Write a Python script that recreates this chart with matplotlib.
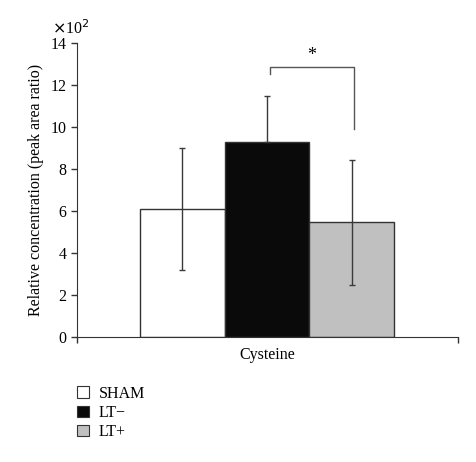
import matplotlib
matplotlib.use('Agg')
import matplotlib.pyplot as plt
from matplotlib.patches import Patch

plt.rcParams['font.family'] = ['Liberation Serif', 'DejaVu Serif']
plt.rcParams['font.size'] = 11.5

# data (x10^2)
groups = ['SHAM', 'LT\u2212', 'LT+']
means = [6.1, 9.28, 5.46]
err_low = [2.9, 0.0, 3.0]   # lower whisker of LT- is hidden inside the black bar
err_high = [2.9, 2.22, 3.0]
colors = ['white', '#0a0a0a', '#c0c0c0']
category = 'Cysteine'
yticks = [0, 2, 4, 6, 8, 10, 12, 14]

fig = plt.figure(figsize=(4.76, 4.62), dpi=100)
ax = fig.add_axes([0.162, 0.271, 0.8, 0.635])

pos = [0, 1, 2]
ax.bar(pos, means, width=1.0, color=colors, edgecolor='#333333', linewidth=1.0, zorder=2)
ax.errorbar(pos, means, yerr=[err_low, err_high], fmt='none', ecolor='#3a3a3a', elinewidth=1.0,
            capsize=2.5, capthick=1.0, zorder=3)

# significance bracket between LT- and LT+
ax.plot([1.03, 1.03, 2.02, 2.02], [12.54, 12.89, 12.89, 9.91], color='#555555', lw=1.0)
ax.text(1.52, 13.0, '*', ha='center', va='bottom', fontsize=13)

ax.set_xlim(-1.24, 3.25)
ax.set_ylim(0, 14)
ax.set_yticks(yticks)
ax.set_xticks([-1.24, 3.25])
ax.set_xticklabels(['', ''])
ax.tick_params(axis='both', direction='out', length=4, width=1, color='#333333')
ax.text(0.5, -0.035, category, transform=ax.transAxes, ha='center', va='top')
ax.set_ylabel('Relative concentration (peak area ratio)', labelpad=5)
ax.text(-0.065, 1.02, r'$\times$10$^2$', transform=ax.transAxes, ha='left', va='bottom')

for s in ['top', 'right']:
    ax.spines[s].set_visible(False)
for s in ['left', 'bottom']:
    ax.spines[s].set_color('#333333')

handles = [Patch(facecolor=c, edgecolor='#333333', linewidth=0.8) for c in colors]
fig.legend(handles, groups, loc='upper left', bbox_to_anchor=(0.162, 0.165), frameon=False,
           handlelength=0.75, handleheight=0.75, handletextpad=0.6, labelspacing=0.2,
           borderpad=0, borderaxespad=0)

fig.savefig('out.png', dpi=100)
